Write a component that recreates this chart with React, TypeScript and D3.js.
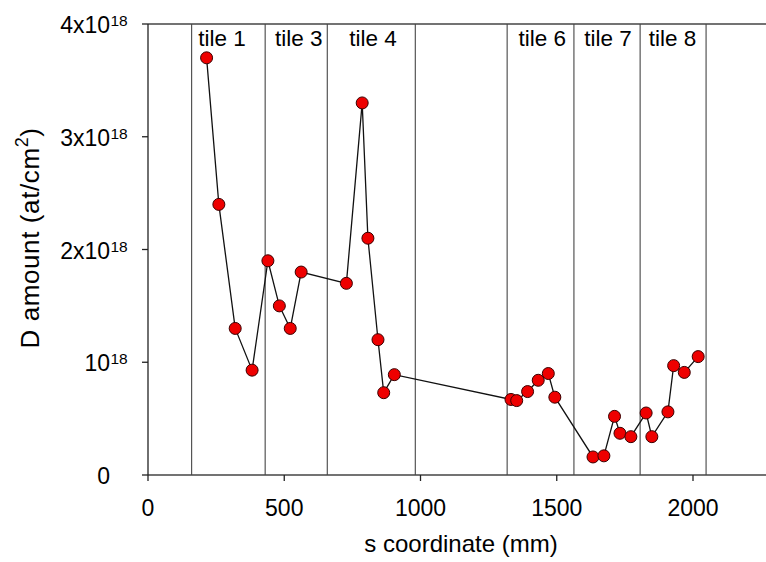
import React from "react";
import * as d3 from "d3";

const sCoord = [215, 260, 320, 382, 440, 482, 522, 562, 728, 786, 807, 844, 865, 904, 1332, 1353, 1393, 1432, 1469, 1493, 1633, 1673, 1712, 1732, 1772, 1828, 1849, 1908, 1929, 1968, 2019];
const dAmount = [3.70, 2.40, 1.30, 0.93, 1.90, 1.50, 1.30, 1.80, 1.70, 3.30, 2.10, 1.20, 0.73, 0.89, 0.67, 0.66, 0.74, 0.84, 0.90, 0.69, 0.16, 0.17, 0.52, 0.37, 0.34, 0.55, 0.34, 0.56, 0.97, 0.91, 1.05];
const tileBounds = [160, 430, 658, 981, 1318, 1563, 1806, 2048];
const tileLabels = ["tile 1", "tile 3", "tile 4", "tile 6", "tile 7", "tile 8"];
const tileLabelX = [272, 553, 826, 1447, 1688, 1925];
const xTicks = [0, 500, 1000, 1500, 2000];
const yTicks = [0, 1, 2, 3, 4];
const yTickBase = ["0", "10", "2x10", "3x10", "4x10"];
const yTickSup = ["", "18", "18", "18", "18"];

const FONT = "'Liberation Sans', Arial, Helvetica, sans-serif";

export default function App() {
  const x = d3.scaleLinear().domain([0, 2000]).range([148, 693]);
  const y = d3.scaleLinear().domain([0, 4]).range([475, 24]);
  const pts = sCoord.map((s, i) => [x(s), y(dAmount[i])] as [number, number]);
  const line = d3.line();
  const xEnd = 800;
  return (
    <svg width={766} height={562} style={{ position: "absolute", left: 0, top: 0 }} fontFamily={FONT}>
      <rect width={766} height={562} fill="#fff" />
      {tileBounds.map((b, i) => (
        <line key={"tb" + i} x1={x(b)} x2={x(b)} y1={y(4)} y2={y(0)} stroke="#555" strokeWidth={1.2} />
      ))}
      {tileLabels.map((t, i) => (
        <text key={"tl" + i} x={x(tileLabelX[i])} y={46} fontSize={22.5} textAnchor="middle" fill="#000">
          {t}
        </text>
      ))}
      {/* axes frame */}
      <line x1={x(0)} x2={xEnd} y1={y(4)} y2={y(4)} stroke="#444" strokeWidth={1.3} />
      <line x1={x(0)} x2={xEnd} y1={y(0)} y2={y(0)} stroke="#444" strokeWidth={1.3} />
      <line x1={x(0)} x2={x(0)} y1={y(4)} y2={y(0)} stroke="#222" strokeWidth={1.3} />
      {yTicks.map((t, i) => (
        <g key={"yt" + i}>
          <line x1={x(0) - 6} x2={x(0)} y1={y(t)} y2={y(t)} stroke="#222" strokeWidth={1.3} />
          <text x={110} y={y(t) + 9} fontSize={23} textAnchor="end" fill="#000">
            {yTickBase[i]}
          </text>
          {yTickSup[i] && (
            <text x={110.5} y={y(t) + 2} fontSize={15.5} textAnchor="start" fill="#000">
              {yTickSup[i]}
            </text>
          )}
        </g>
      ))}
      {xTicks.map((t, i) => (
        <g key={"xt" + i}>
          <line x1={x(t)} x2={x(t)} y1={y(0)} y2={y(0)} stroke="#222" strokeWidth={1.3} />
          <line x1={x(t)} x2={x(t)} y1={y(0)} y2={y(0) + 6} stroke="#222" strokeWidth={1.3} />
          <text x={x(t)} y={516} fontSize={23} textAnchor="middle" fill="#000">
            {t}
          </text>
        </g>
      ))}
      <text x={461} y={552} fontSize={24} textAnchor="middle" fill="#000">
        s coordinate (mm)
      </text>
      <text transform="translate(39,238) rotate(-90)" fontSize={26} letterSpacing={0.6} textAnchor="middle" fill="#000">
        D amount (at/cm<tspan fontSize={18} dy={-11}>2</tspan>
        <tspan dy={11}>)</tspan>
      </text>
      <path d={line(pts) || ""} fill="none" stroke="#111" strokeWidth={1.3} />
      {pts.map((p, i) => (
        <circle key={"c" + i} cx={p[0]} cy={p[1]} r={6} fill="#ee0000" stroke="#3a0000" strokeWidth={1} />
      ))}
    </svg>
  );
}
